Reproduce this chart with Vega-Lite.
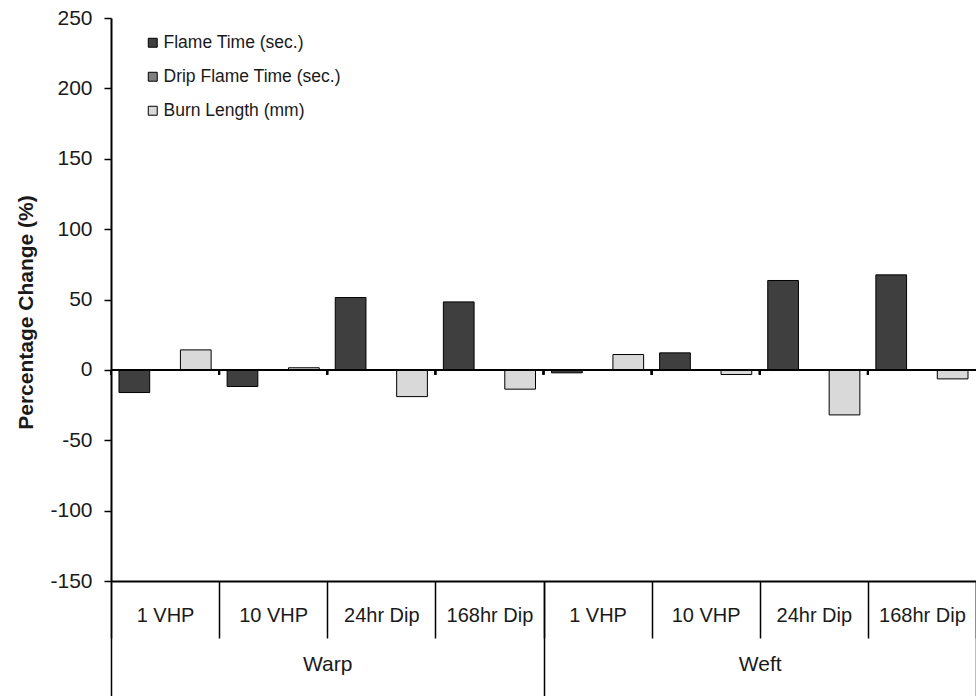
{
  "$schema": "https://vega.github.io/schema/vega-lite/v6.json",
  "width": 865,
  "height": 563,
  "autosize": {"type": "none"},
  "padding": {"left": 111, "top": 18, "right": 0, "bottom": 115},
  "background": "white",
  "config": {"font": "Liberation Sans", "view": {"stroke": null}, "axis": {"grid": false}},
  "data": {
    "values": [
      {"dir": "Warp", "key": "Warp|1 VHP", "series": "Flame Time (sec.)", "value": -16.1},
      {"dir": "Warp", "key": "Warp|1 VHP", "series": "Drip Flame Time (sec.)", "value": 0},
      {"dir": "Warp", "key": "Warp|1 VHP", "series": "Burn Length  (mm)", "value": 14.2},
      {"dir": "Warp", "key": "Warp|10 VHP", "series": "Flame Time (sec.)", "value": -11.8},
      {"dir": "Warp", "key": "Warp|10 VHP", "series": "Drip Flame Time (sec.)", "value": 0},
      {"dir": "Warp", "key": "Warp|10 VHP", "series": "Burn Length  (mm)", "value": 1.5},
      {"dir": "Warp", "key": "Warp|24hr Dip", "series": "Flame Time (sec.)", "value": 51.4},
      {"dir": "Warp", "key": "Warp|24hr Dip", "series": "Drip Flame Time (sec.)", "value": 0},
      {"dir": "Warp", "key": "Warp|24hr Dip", "series": "Burn Length  (mm)", "value": -19.0},
      {"dir": "Warp", "key": "Warp|168hr Dip", "series": "Flame Time (sec.)", "value": 48.3},
      {"dir": "Warp", "key": "Warp|168hr Dip", "series": "Drip Flame Time (sec.)", "value": 0},
      {"dir": "Warp", "key": "Warp|168hr Dip", "series": "Burn Length  (mm)", "value": -13.7},
      {"dir": "Weft", "key": "Weft|1 VHP", "series": "Flame Time (sec.)", "value": -2.1},
      {"dir": "Weft", "key": "Weft|1 VHP", "series": "Drip Flame Time (sec.)", "value": 0},
      {"dir": "Weft", "key": "Weft|1 VHP", "series": "Burn Length  (mm)", "value": 10.9},
      {"dir": "Weft", "key": "Weft|10 VHP", "series": "Flame Time (sec.)", "value": 12.1},
      {"dir": "Weft", "key": "Weft|10 VHP", "series": "Drip Flame Time (sec.)", "value": 0},
      {"dir": "Weft", "key": "Weft|10 VHP", "series": "Burn Length  (mm)", "value": -3.3},
      {"dir": "Weft", "key": "Weft|24hr Dip", "series": "Flame Time (sec.)", "value": 63.5},
      {"dir": "Weft", "key": "Weft|24hr Dip", "series": "Drip Flame Time (sec.)", "value": 0},
      {"dir": "Weft", "key": "Weft|24hr Dip", "series": "Burn Length  (mm)", "value": -32.0},
      {"dir": "Weft", "key": "Weft|168hr Dip", "series": "Flame Time (sec.)", "value": 67.5},
      {"dir": "Weft", "key": "Weft|168hr Dip", "series": "Drip Flame Time (sec.)", "value": 0},
      {"dir": "Weft", "key": "Weft|168hr Dip", "series": "Burn Length  (mm)", "value": -6.4}
    ]
  },
  "layer": [
    {
      "layer": [
        {
          "mark": {"type": "bar", "stroke": "black", "strokeWidth": 1},
          "encoding": {
            "x": {
              "field": "key", "type": "nominal", "sort": null,
              "scale": {"type": "band", "paddingInner": 0, "paddingOuter": 0},
              "axis": {
                "orient": "bottom", "title": null,
                "labelExpr": "split(datum.label, '|')[1]",
                "labelAngle": 0, "labelFontSize": 20, "labelColor": "#1a1a1a",
                "tickBand": "extent", "tickSize": 57, "tickWidth": 1.5, "tickColor": "black",
                "domainColor": "black", "domainWidth": 2, "labelPadding": -32.5
              }
            },
            "xOffset": {
              "field": "series", "type": "nominal",
              "scale": {"domain": ["Flame Time (sec.)", "Drip Flame Time (sec.)", "Burn Length  (mm)"], "paddingInner": 0, "paddingOuter": 0.26}
            },
            "y": {
              "field": "value", "type": "quantitative",
              "scale": {"domain": [-150, 250], "nice": false},
              "axis": {
                "title": "Percentage Change (%)", "titleFontSize": 21, "titleFontWeight": "bold", "titleColor": "#1a1a1a",
                "titleY": 294,
                "labelFontSize": 21, "labelColor": "#1a1a1a",
                "labelExpr": "replace(datum.label, '−', '-')",
                "values": [-150, -100, -50, 0, 50, 100, 150, 200, 250],
                "tickSize": 7, "tickColor": "black", "tickWidth": 1.5,
                "domainColor": "black", "domainWidth": 2, "labelPadding": 12, "titlePadding": 13
              }
            },
            "color": {
              "field": "series", "type": "nominal",
              "scale": {"domain": ["Flame Time (sec.)", "Drip Flame Time (sec.)", "Burn Length  (mm)"], "range": ["#3f3f3f", "#7f7f7f", "#d9d9d9"]},
              "legend": {
                "title": null, "orient": "none", "legendX": 33, "legendY": 16,
                "symbolType": "square", "symbolSize": 80, "symbolStrokeColor": "black", "symbolStrokeWidth": 1,
                "labelFontSize": 17.5, "labelColor": "#1a1a1a", "labelOffset": 2, "rowPadding": 15, "labelLimit": 400
              }
            }
          }
        },
        {
          "mark": {"type": "rule", "color": "black", "strokeWidth": 2},
          "encoding": {
            "x": {"field": "key", "type": "nominal", "sort": null, "bandPosition": 0},
            "y": {"datum": 0},
            "y2": {"datum": -3.5}
          }
        },
        {
          "mark": {"type": "rule", "color": "black", "strokeWidth": 2},
          "encoding": {"y": {"datum": 0}}
        }
      ]
    },
    {
      "mark": {"type": "rule", "opacity": 0},
      "encoding": {
        "x": {
          "field": "dir", "type": "nominal", "sort": null,
          "scale": {"type": "band", "paddingInner": 0, "paddingOuter": 0},
          "axis": {
            "orient": "bottom", "title": null, "labelAngle": 0, "labelFontSize": 21, "labelColor": "#1a1a1a",
            "tickBand": "extent", "tickSize": 115, "tickWidth": 1.5, "tickColor": "black",
            "domain": false, "labelPadding": -42.5
          }
        }
      }
    }
  ],
  "resolve": {"scale": {"x": "independent"}, "axis": {"x": "independent"}}
}
